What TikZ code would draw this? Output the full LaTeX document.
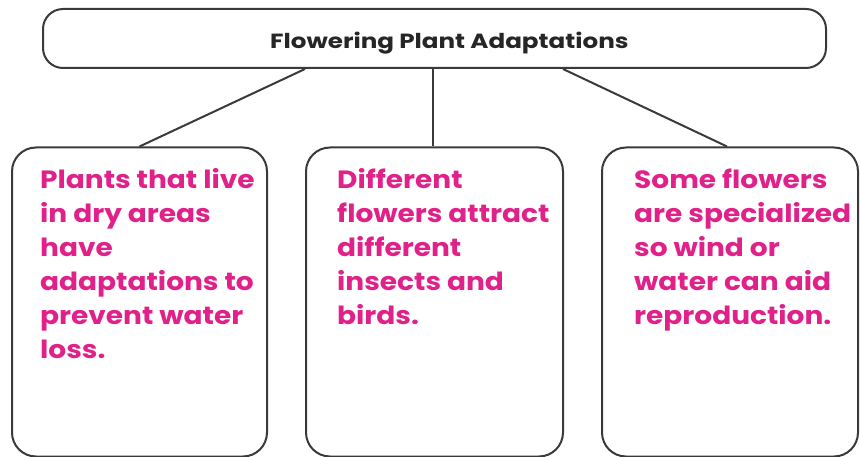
\documentclass[tikz,border=0pt]{standalone}
\usepackage{fontspec}
\setmainfont{Poppins}
\newfontfamily\bodyfont[FakeStretch=1.12]{Poppins}
\newfontfamily\headfont[FakeStretch=1.2]{Poppins}
\definecolor{pinktext}{HTML}{E0218A}
\definecolor{linegrey}{HTML}{3A3A3A}
\begin{document}
\begin{tikzpicture}[x=1pt,y=-1pt,
  box/.style={draw=linegrey,line width=2pt,rounded corners=24pt,inner sep=0pt,fill=white},
  topbox/.style={draw=linegrey,line width=2pt,rounded corners=20pt,inner sep=0pt,fill=white},
  conn/.style={draw=linegrey,line width=2pt},
  bodytext/.style={anchor=base west,inner sep=0pt,align=left,text=pinktext,font=\bodyfont\fontsize{25}{34}\selectfont\bfseries},
  titletext/.style={anchor=base west,inner sep=0pt,text=black!85,font=\headfont\fontsize{20.5}{24}\selectfont\bfseries}]
\useasboundingbox (0,0) rectangle (860,457);
\node[topbox,minimum width=783pt,minimum height=59pt] (top) at (434.5,38.5) {};
\node[box,minimum width=255pt,minimum height=309pt] (left) at (139.5,302) {};
\node[box,minimum width=257pt,minimum height=309pt] (mid) at (434.5,302) {};
\node[box,minimum width=256pt,minimum height=309pt] (right) at (730,302) {};
\draw[conn] ([xshift=-129.5pt]top.south) -- (left.north);
\draw[conn] ([xshift=-1.5pt]top.south) -- ([xshift=-1.5pt]mid.north);
\draw[conn] ([xshift=128.5pt]top.south) -- ([xshift=-3pt]right.north);
\node[titletext] (title) at (270,49) {Flowering Plant Adaptations};
\node[bodytext] (lefttext) at (40,358) {Plants that live\\in dry areas\\have\\adaptations to\\prevent water\\loss.};
\node[bodytext] (midtext) at (337,324) {Different\\flowers attract\\different\\insects and\\birds.};
\node[bodytext] (righttext) at (634,324) {Some flowers\\are specialized\\so wind or\\water can aid\\reproduction.};
\end{tikzpicture}
\end{document}
